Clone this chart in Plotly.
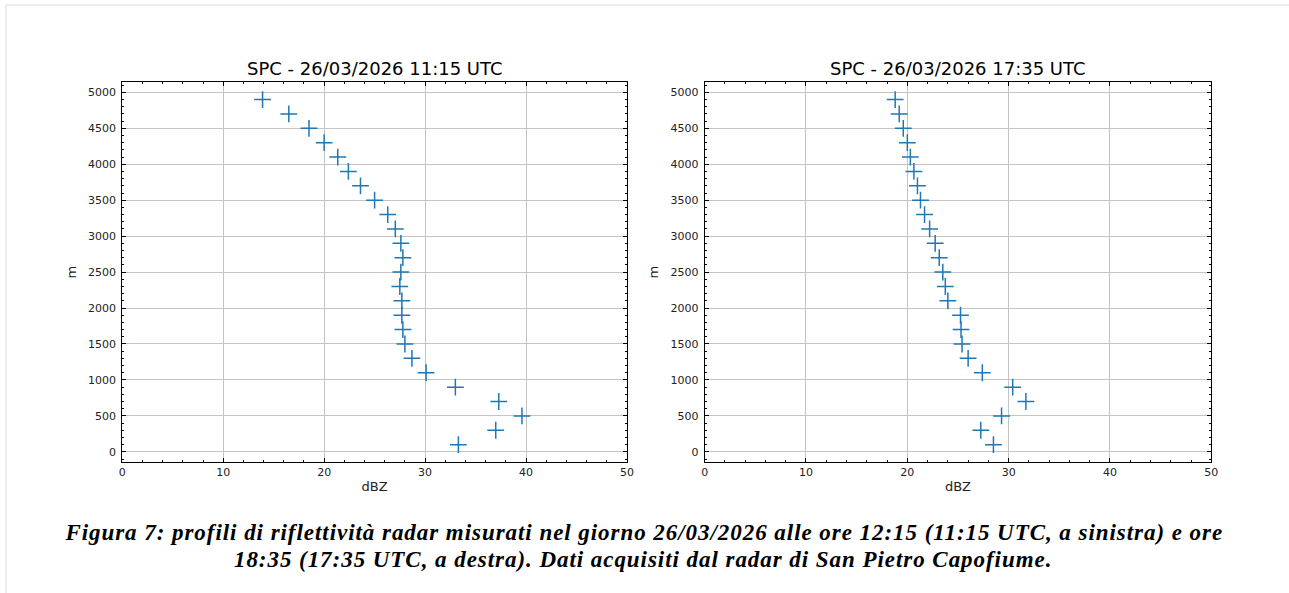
import plotly.graph_objects as go

# ---- data ----
heights = [4900, 4700, 4500, 4300, 4100, 3900, 3700, 3500, 3300, 3100, 2900, 2700,
           2500, 2300, 2100, 1900, 1700, 1500, 1300, 1100, 900, 700, 500, 300, 100]
dbz_1115 = [13.9, 16.5, 18.5, 20.0, 21.35, 22.4, 23.6, 25.0, 26.3, 27.05, 27.6, 27.8,
            27.6, 27.5, 27.7, 27.7, 27.8, 28.0, 28.7, 30.1, 33.0, 37.3, 39.6, 37.0, 33.3]
dbz_1735 = [18.8, 19.2, 19.6, 20.0, 20.3, 20.65, 21.0, 21.3, 21.7, 22.2, 22.75, 23.15,
            23.5, 23.75, 24.0, 25.25, 25.3, 25.4, 26.0, 27.4, 30.4, 31.7, 29.3, 27.25, 28.5]
titles = ["SPC - 26/03/2026 11:15 UTC", "SPC - 26/03/2026 17:35 UTC"]
x_label = "dBZ"
y_label = "m"
caption_lines = [
    "Figura 7: profili di riflettività radar misurati nel giorno 26/03/2026 alle ore 12:15 (11:15 UTC, a sinistra) e ore",
    "18:35 (17:35 UTC, a destra). Dati acquisiti dal radar di San Pietro Capofiume.",
]

W, H = 1289, 593
BLUE = "#1f77b4"

def px_x(p):
    return p / W

def px_y(p):
    return 1 - p / H

fig = go.Figure()

series = [dbz_1115, dbz_1735]
x_doms = [(119.3, 628.3), (706.7, 1217.7)]
y_dom = (px_y(461.9), px_y(82.3))

for i, (vals, (x0, x1)) in enumerate(zip(series, x_doms)):
    sfx = "" if i == 0 else str(i + 1)
    fig.add_trace(go.Scatter(
        x=vals, y=heights, mode="markers",
        marker=dict(symbol="cross-thin", size=12, color=BLUE,
                    line=dict(color=BLUE, width=1.5)),
        xaxis="x" + sfx, yaxis="y" + sfx, showlegend=False,
        hoverinfo="x+y",
    ))
    common = dict(
        showline=True, linecolor="black", linewidth=1, mirror="allticks",
        ticks="inside", ticklen=4, tickwidth=1, tickcolor="black",
        showgrid=True, gridcolor="#c4c4c4", gridwidth=1,
        zeroline=False,
        tickfont=dict(family="DejaVu Sans", size=11, color="#222222"),
    )
    fig.layout["xaxis" + sfx] = dict(
        common, domain=[px_x(x0), px_x(x1)], range=[0, 50], dtick=10, tick0=0,
        anchor="y" + sfx,
        minor=dict(ticks="inside", ticklen=2, dtick=2, tick0=0, tickcolor="black", showgrid=False),
        title=dict(text=x_label, font=dict(family="DejaVu Sans", size=13, color="#222222"), standoff=3),
    )
    fig.layout["yaxis" + sfx] = dict(
        common, domain=list(y_dom), range=[-140, 5140], dtick=500, tick0=0,
        anchor="x" + sfx, ticklabelstandoff=3,
        minor=dict(ticks="inside", ticklen=2, dtick=100, tick0=0, tickcolor="black", showgrid=False),
        title=dict(text=y_label, font=dict(family="DejaVu Sans", size=13, color="#222222"), standoff=8),
    )
    fig.add_annotation(
        text=titles[i], x=px_x((x0 + x1) / 2), y=px_y(69), xref="paper", yref="paper",
        showarrow=False, xanchor="center", yanchor="middle",
        font=dict(family="DejaVu Sans", size=18, color="black"),
    )

for j, (line, yc) in enumerate(zip(caption_lines, [532, 559])):
    fig.add_annotation(
        text="<b><i>" + line + "</i></b>", x=px_x(645), y=px_y(yc), xref="paper", yref="paper",
        showarrow=False, xanchor="center", yanchor="middle",
        font=dict(family="Liberation Serif", size=23, color="black"),
    )

# page border
fig.add_shape(type="rect", xref="paper", yref="paper",
              x0=px_x(2), x1=px_x(1300), y0=px_y(600), y1=px_y(5),
              line=dict(color="#dddddd", width=1), fillcolor="rgba(0,0,0,0)")

fig.update_layout(
    width=W, height=H, margin=dict(l=0, r=0, t=0, b=0),
    paper_bgcolor="white", plot_bgcolor="white",
)

post = """
document.body.style.margin='0px';
function spaceCaption(){
  document.querySelectorAll('g.annotation text.annotation-text').forEach(function(t){
    if (t.textContent.length > 60) { t.style.letterSpacing = '0.95px'; }
  });
}
spaceCaption();
setTimeout(spaceCaption, 0);
"""

fig.write_html("out.html", post_script=post, config={"displayModeBar": False})
